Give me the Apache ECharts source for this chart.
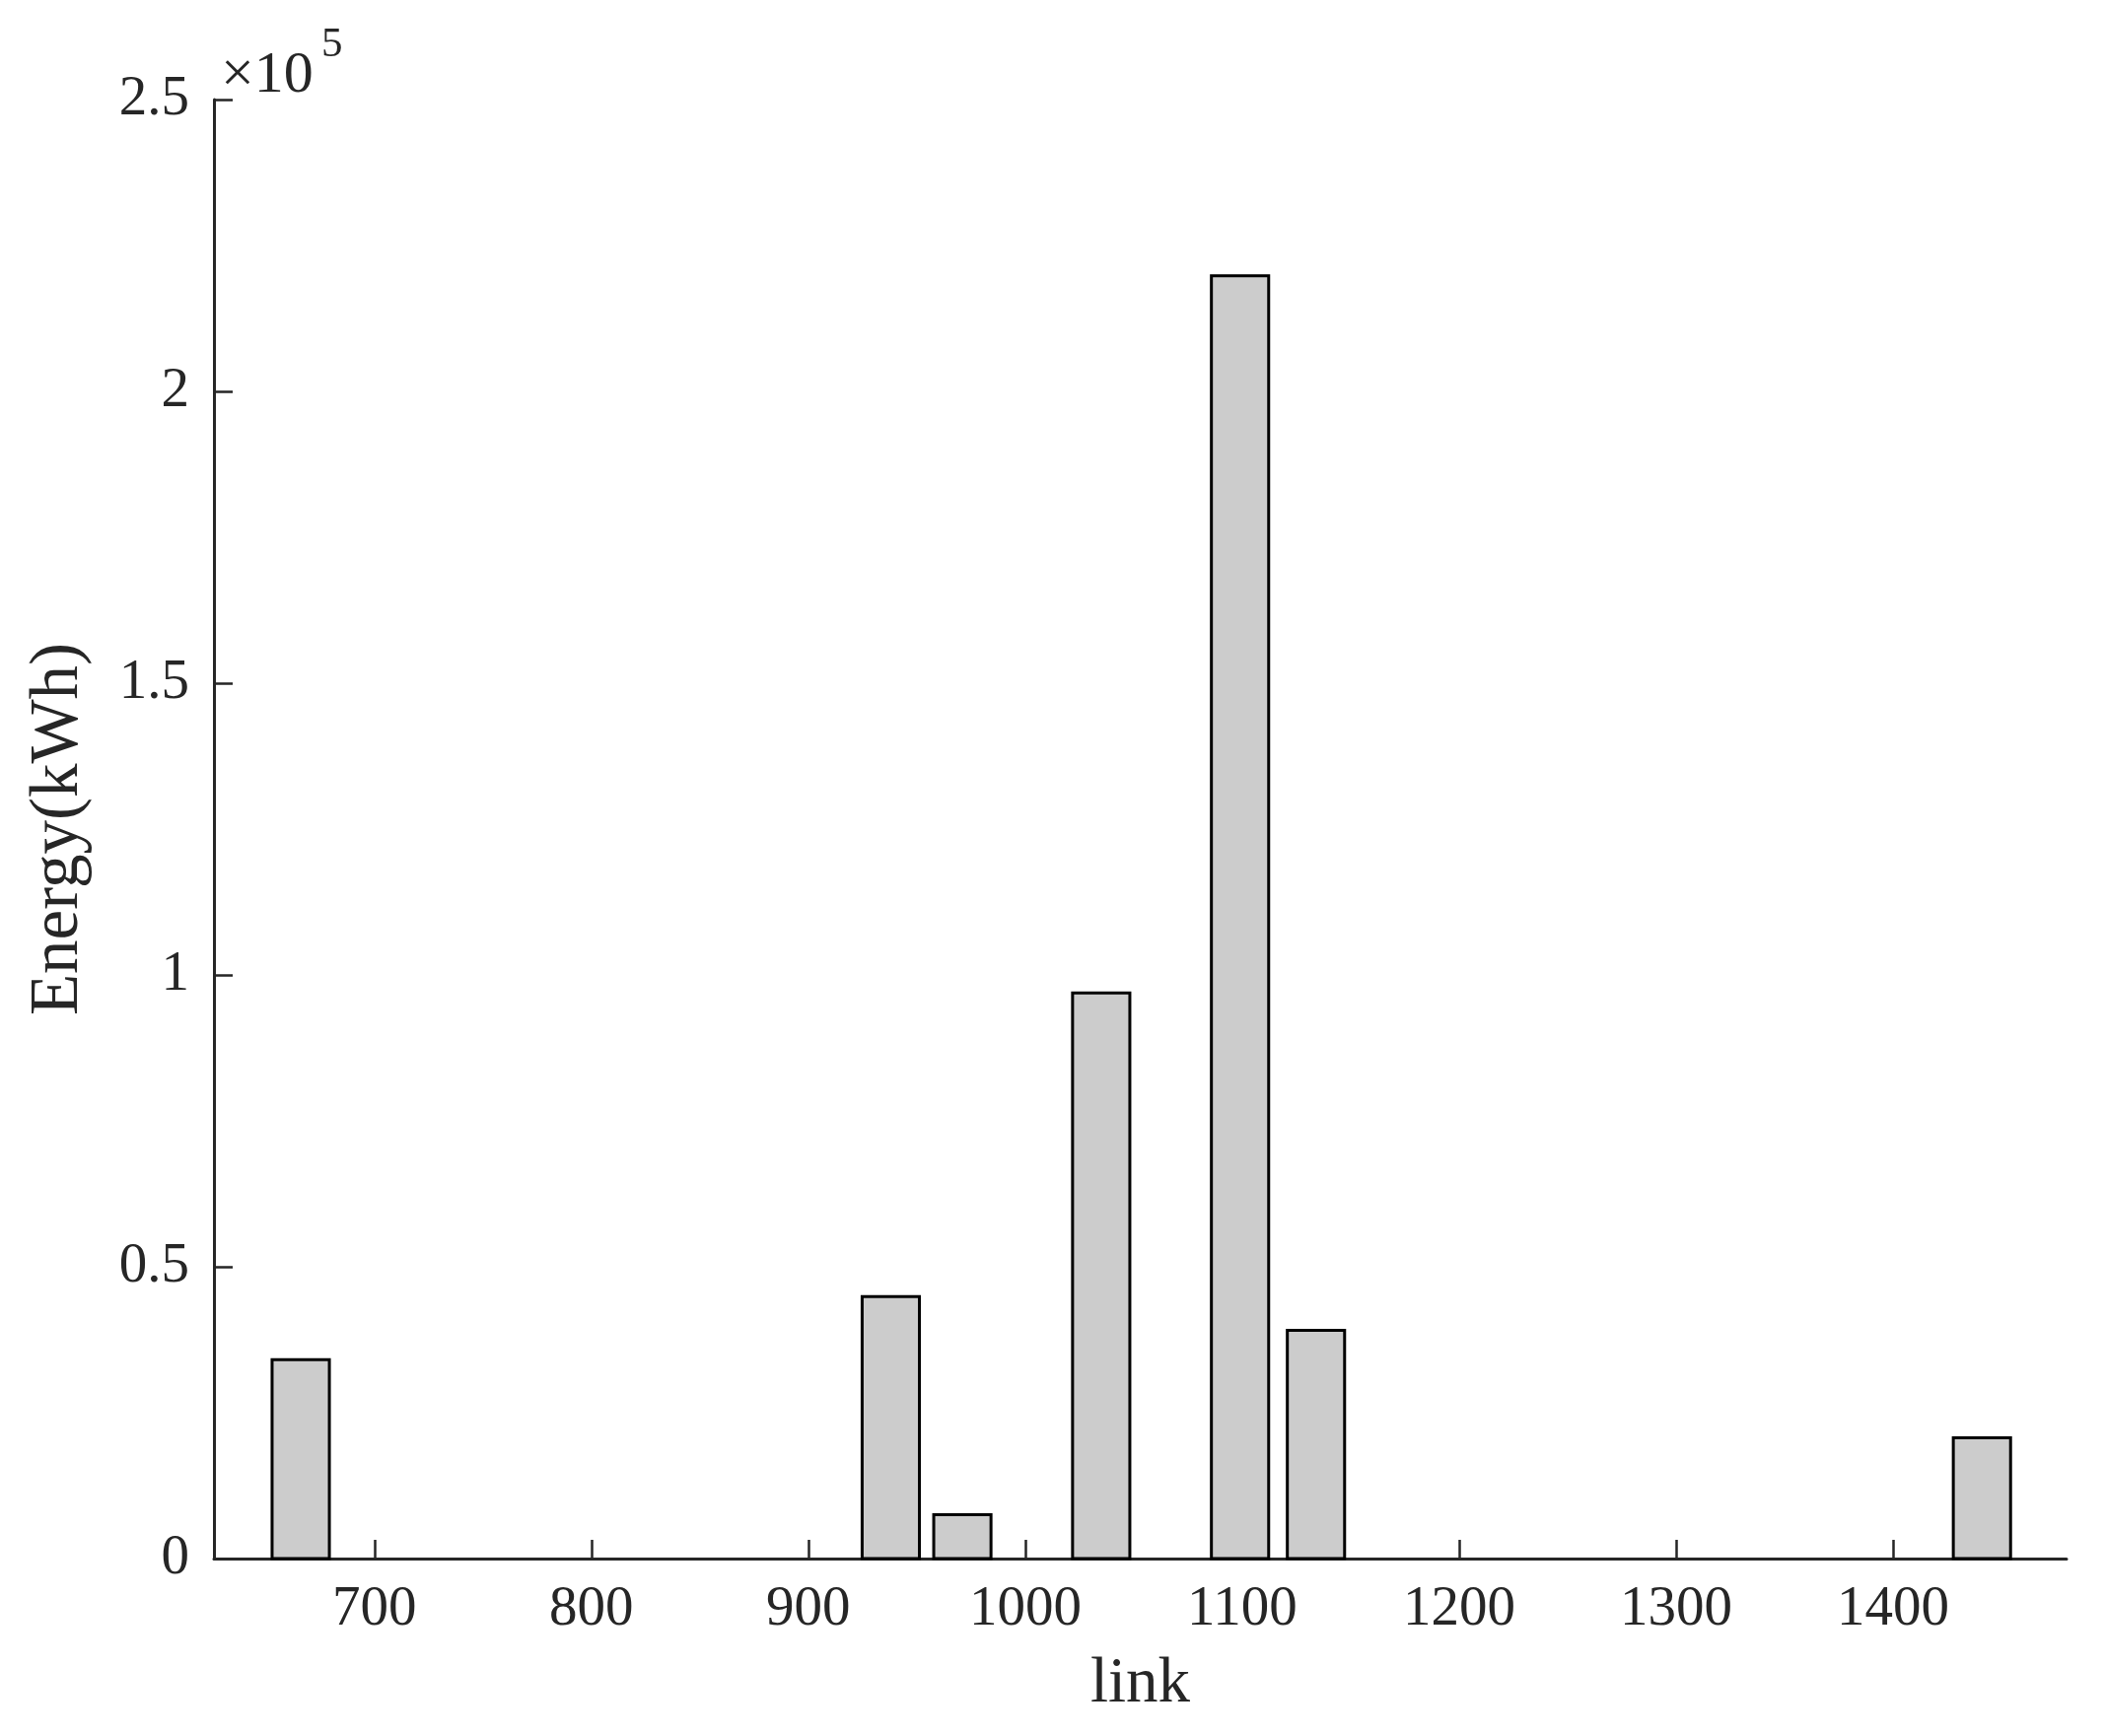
<!DOCTYPE html>
<html>
<head>
<meta charset="utf-8">
<style>
  html, body { margin: 0; padding: 0; background: #fff; }
  #chart1 { width: 2135px; height: 1761px; }
</style>
</head>
<body>
<div id="chart1"></div>
<script src="https://cdn.jsdelivr.net/npm/echarts@6/dist/echarts.min.js"></script>
<script>
  // link id -> energy (kWh)
  let links = [666, 938, 971, 1035, 1099, 1134, 1441];
  let energy = [34070, 44900, 7500, 96900, 219800, 39100, 20700];
  let xTicks = [700, 800, 900, 1000, 1100, 1200, 1300, 1400];
  let yTicks = [0, 50000, 100000, 150000, 200000, 250000];

  let font = '"Liberation Serif", "Times New Roman", serif';
  let ink = '#262626';

  // bar width like matlab: 0.8 of the smallest gap
  let gap = Infinity;
  for (let i = 1; i < links.length; i++) {
    gap = Math.min(gap, links[i] - links[i - 1]);
  }
  let barW = gap * 0.8;

  let data = [];
  for (let i = 0; i < links.length; i++) {
    data.push([links[i], energy[i]]);
  }

  let myChart = echarts.init(document.getElementById('chart1'));

  function renderBar(params, api) {
    let x = api.value(0);
    let top = api.coord([x, api.value(1)]);
    let base = api.coord([x, 0]);
    let w = api.size([barW, 0])[0];
    return {
      type: 'rect',
      shape: { x: top[0] - w / 2, y: top[1], width: w, height: base[1] - top[1] },
      style: { fill: '#cccccc', stroke: '#000', lineWidth: 3 }
    };
  }

  let option = {
    animation: false,
    backgroundColor: '#fff',
    grid: { left: 217, right: 39, top: 101, bottom: 180 },
    graphic: [
      { type: 'text', left: 224, top: 47,
        style: { text: '×10', font: '60px ' + font, fill: ink } },
      { type: 'text', left: 326, top: 24,
        style: { text: '5', font: '43px ' + font, fill: ink } }
    ],
    xAxis: {
      type: 'value',
      min: 626,
      max: 1480,
      name: 'link',
      nameLocation: 'middle',
      nameGap: 95,
      nameTextStyle: { fontFamily: font, fontSize: 65, color: ink },
      splitLine: { show: false },
      axisLine: { onZero: false, lineStyle: { color: ink, width: 3 } },
      axisTick: { inside: true, length: 19, customValues: xTicks, lineStyle: { color: ink, width: 2.5 } },
      axisLabel: {
        customValues: xTicks, margin: 24, fontFamily: font, fontSize: 57, color: ink,
        formatter: function (v) { return String(v); }
      }
    },
    yAxis: {
      type: 'value',
      min: 0,
      max: 250000,
      interval: 50000,
      name: 'Energy(kWh)',
      nameLocation: 'middle',
      nameGap: 123,
      nameRotate: 90,
      nameTextStyle: { fontFamily: font, fontSize: 69, color: ink },
      splitLine: { show: false },
      axisLine: { show: true, lineStyle: { color: ink, width: 3 } },
      axisTick: { show: true, inside: true, length: 19, customValues: yTicks, lineStyle: { color: ink, width: 2.5 } },
      axisLabel: {
        margin: 25, fontFamily: font, fontSize: 57, color: ink,
        formatter: function (v) { return String(v / 100000); }
      }
    },
    series: [{
      type: 'custom',
      renderItem: renderBar,
      encode: { x: 0, y: 1 },
      data: data
    }]
  };
  myChart.setOption(option);
</script>
</body>
</html>
